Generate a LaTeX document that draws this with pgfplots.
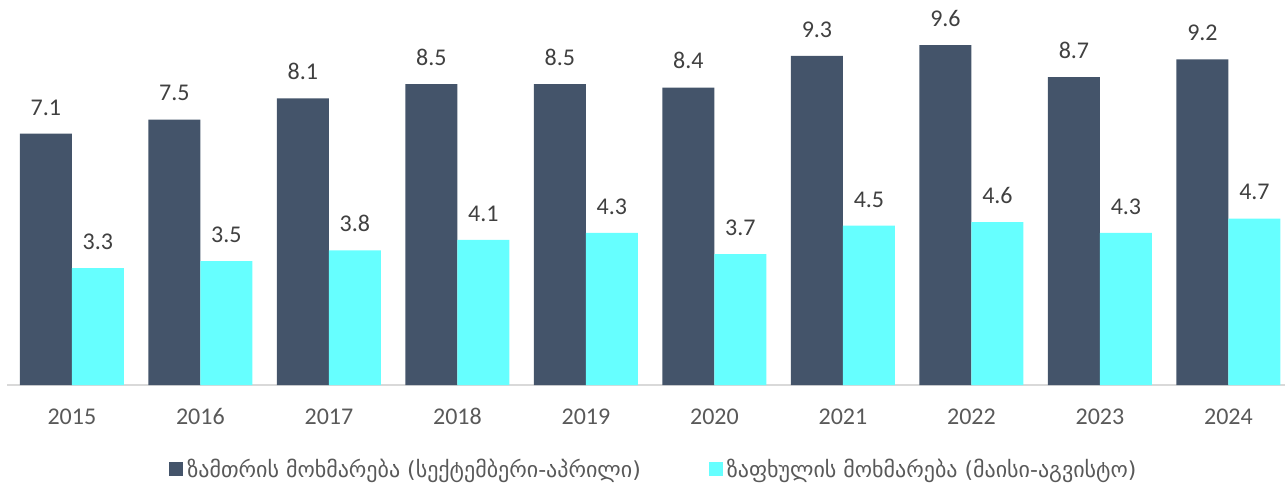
\documentclass[border=0pt]{standalone}
\usepackage{fontspec}
\setmainfont{Carlito}
\newfontfamily\geo{DejaVu Sans}
\usepackage{pgfplots}
\pgfplotsset{compat=1.18}
\definecolor{winter}{HTML}{44546A}
\definecolor{summer}{HTML}{66FFFF}
\definecolor{ticktxt}{HTML}{595959}
\definecolor{valtxt}{HTML}{404040}
\definecolor{axisgray}{HTML}{D9D9D9}

\begin{document}
\begin{tikzpicture}
\begin{axis}[
  name=ax,
  scale only axis,
  width=639pt, height=177pt,
  ybar=0pt, bar width=26pt,
  xmin=-0.505, xmax=9.44,
  ymin=0, ymax=10,
  enlargelimits=false,
  axis x line*=bottom,
  axis y line=none,
  x axis line style={draw=axisgray, line width=1pt, -},
  xtick=data,
  xticklabels={2015,2016,2017,2018,2019,2020,2021,2022,2023,2024},
  major tick length=0pt,
  xticklabel style={font=\fontsize{12}{14}\selectfont, text=ticktxt, yshift=-8.2pt},
  /pgf/number format/assume math mode=true,
  /pgf/number format/.cd, fixed, fixed zerofill, precision=1, /pgfplots/.cd,
  nodes near coords,
  every node near coord/.append style={font=\fontsize{12}{14}\selectfont, text=valtxt, yshift=5.7pt},
  clip=false,
  legend columns=2,
  legend style={at={(0.507,-0.2385)}, anchor=center, draw=none, fill=none,
    font=\geo\fontsize{11}{13}\selectfont, text=ticktxt,
    /tikz/every even column/.append style={column sep=32pt}},
  legend image code/.code={\fill[#1] (0pt,-3.5pt) rectangle (7pt,3.5pt);},
]
\addplot[fill=winter, draw=none] coordinates {
  (0,7.1) (1,7.5) (2,8.1) (3,8.5) (4,8.5) (5,8.4) (6,9.3) (7,9.6) (8,8.7) (9,9.2)
};
\addplot[fill=summer, draw=none] coordinates {
  (0,3.3) (1,3.5) (2,3.8) (3,4.1) (4,4.3) (5,3.7) (6,4.5) (7,4.6) (8,4.3) (9,4.7)
};
\legend{ზამთრის მოხმარება (სექტემბერი-აპრილი), ზაფხულის მოხმარება (მაისი-აგვისტო)}
\end{axis}
\pgfresetboundingbox
\path ([xshift=-3.5pt,yshift=-51pt]ax.south west) rectangle ([yshift=15.5pt]ax.north east);
\end{tikzpicture}
\end{document}
